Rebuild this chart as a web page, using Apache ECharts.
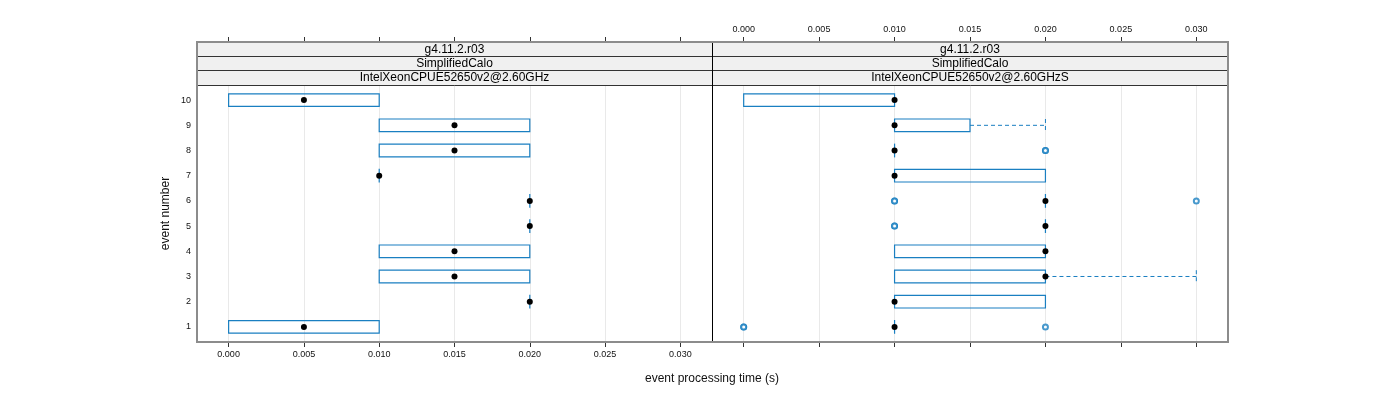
<!DOCTYPE html>
<html>
<head>
<meta charset="utf-8">
<script src="https://cdn.jsdelivr.net/npm/echarts@6/dist/echarts.min.js"></script>
<style>html,body{margin:0;padding:0;background:#fff}#c{width:1400px;height:400px}</style>
</head>
<body>
<div id="c"></div>
<script>
// ---- data ----
const events = [1, 2, 3, 4, 5, 6, 7, 8, 9, 10];
const xTicks = [0.000, 0.005, 0.010, 0.015, 0.020, 0.025, 0.030];
const stripVersion = 'g4.11.2.r03';
const stripTest = 'SimplifiedCalo';
const panelNames = ['IntelXeonCPUE52650v2@2.60GHz', 'IntelXeonCPUE52650v2@2.60GHzS'];

// left panel: IntelXeonCPUE52650v2@2.60GHz
const leftLow  = [0.000, 0.020, 0.010, 0.010, 0.020, 0.020, 0.010, 0.010, 0.010, 0.000];
const leftQ1   = [0.000, 0.020, 0.010, 0.010, 0.020, 0.020, 0.010, 0.010, 0.010, 0.000];
const leftMed  = [0.005, 0.020, 0.015, 0.015, 0.020, 0.020, 0.010, 0.015, 0.015, 0.005];
const leftQ3   = [0.010, 0.020, 0.020, 0.020, 0.020, 0.020, 0.010, 0.020, 0.020, 0.010];
const leftHigh = [0.010, 0.020, 0.020, 0.020, 0.020, 0.020, 0.010, 0.020, 0.020, 0.010];
const leftOutliers = [[], [], [], [], [], [], [], [], [], []];

// right panel: IntelXeonCPUE52650v2@2.60GHzS
const rightLow  = [0.010, 0.010, 0.010, 0.010, 0.020, 0.020, 0.010, 0.010, 0.010, 0.000];
const rightQ1   = [0.010, 0.010, 0.010, 0.010, 0.020, 0.020, 0.010, 0.010, 0.010, 0.000];
const rightMed  = [0.010, 0.010, 0.020, 0.020, 0.020, 0.020, 0.010, 0.010, 0.010, 0.010];
const rightQ3   = [0.010, 0.020, 0.020, 0.020, 0.020, 0.020, 0.020, 0.010, 0.015, 0.010];
const rightHigh = [0.010, 0.020, 0.030, 0.020, 0.020, 0.020, 0.020, 0.010, 0.020, 0.010];
const rightOutliers = [[0.000, 0.000, 0.020], [], [], [], [0.010, 0.010], [0.010, 0.010, 0.030], [], [0.020, 0.020], [], []];

// ---- build ----
const BLUE = '#1a7fc1';
const FONT = 'Liberation Sans, Arial, sans-serif';

function boxData(low, q1, med, q3, high) {
  return events.map((e, i) => [low[i], q1[i], med[i], q3[i], high[i], e]);
}
function medData(med) { return events.map((e, i) => [med[i], e]); }
function outData(outs) {
  const r = [];
  outs.forEach((arr, i) => arr.forEach(v => r.push([v, events[i]])));
  return r;
}

function renderBox(params, api) {
  const y = api.value(5);
  const low = api.value(0), q1 = api.value(1), q3 = api.value(3), high = api.value(4);
  const half = api.size([0, 0.25])[1];
  const pq1 = api.coord([q1, y]);
  const pq3 = api.coord([q3, y]);
  const pl = api.coord([low, y]);
  const ph = api.coord([high, y]);
  const children = [];
  const dash = [4, 3];
  children.push({
    type: 'rect',
    shape: { x: pq1[0], y: pq1[1] - half, width: Math.max(pq3[0] - pq1[0], 0.01), height: half * 2 },
    style: { fill: 'none', stroke: BLUE, lineWidth: 1.2 }
  });
  if (high > q3) {
    children.push({ type: 'line', shape: { x1: pq3[0], y1: pq3[1], x2: ph[0], y2: ph[1] },
      style: { stroke: BLUE, lineWidth: 1, lineDash: dash } });
    children.push({ type: 'line', shape: { x1: ph[0], y1: ph[1] - half, x2: ph[0], y2: ph[1] + half },
      style: { stroke: BLUE, lineWidth: 1, lineDash: dash } });
  }
  if (low < q1) {
    children.push({ type: 'line', shape: { x1: pq1[0], y1: pq1[1], x2: pl[0], y2: pl[1] },
      style: { stroke: BLUE, lineWidth: 1, lineDash: dash } });
    children.push({ type: 'line', shape: { x1: pl[0], y1: pl[1] - half, x2: pl[0], y2: pl[1] + half },
      style: { stroke: BLUE, lineWidth: 1, lineDash: dash } });
  }
  return { type: 'group', children };
}

const XMIN = -0.0021, XMAX = 0.0321;
function xAxisDef(gridIndex, position, showLabels, showSplit, offset) {
  return {
    type: 'value', gridIndex, position, offset: offset || 0,
    min: XMIN, max: XMAX,
    axisLine: { show: false },
    axisTick: { show: true, length: 5, customValues: xTicks, lineStyle: { color: '#333', width: 1 } },
    axisLabel: { show: showLabels, customValues: xTicks, margin: 8, fontSize: 9, color: '#111', fontFamily: FONT,
      formatter: v => v.toFixed(3) },
    splitLine: { show: showSplit, lineStyle: { color: '#e9e9e9', width: 1 } }
  };
}
function yAxisDef(gridIndex, showLabels) {
  return {
    type: 'value', gridIndex, min: 0.4, max: 10.6,
    axisLine: { show: false }, axisTick: { show: false },
    axisLabel: { show: showLabels, customValues: events, margin: 6, fontSize: 9, color: '#111', fontFamily: FONT },
    splitLine: { show: false },
    name: showLabels ? 'event number' : '', nameLocation: 'middle', nameGap: 25,
    nameTextStyle: { fontSize: 12, color: '#111', fontFamily: FONT }
  };
}

const PL = 197, PM = 712, PR = 1228, PT = 85, PB = 342, ST = 42;
const stripRows = [[42, 56, stripVersion], [56, 70, stripTest], [70, 85, null]];
const graphics = [];
[[PL, PM, panelNames[0]], [PM, PR, panelNames[1]]].forEach(([x0, x1, nm]) => {
  stripRows.forEach(([y0, y1, txt]) => {
    graphics.push({ type: 'rect', shape: { x: x0, y: y0, width: x1 - x0, height: y1 - y0 },
      style: { fill: '#f0f0f0', stroke: null }, silent: true, z: 1 });
    graphics.push({ type: 'text', x: (x0 + x1) / 2, y: (y0 + y1) / 2 + 0.5,
      style: { text: txt || nm, fontSize: 12, fill: '#000', fontFamily: FONT, align: 'center', verticalAlign: 'middle' }, z: 3 });
  });
});
[56, 70, 85].forEach(y => graphics.push({ type: 'line', shape: { x1: PL, y1: y + 0.5, x2: PR, y2: y + 0.5 },
  style: { stroke: '#333', lineWidth: 1 }, z: 4 }));
graphics.push({ type: 'line', shape: { x1: PM + 0.5, y1: ST, x2: PM + 0.5, y2: PB }, style: { stroke: '#000', lineWidth: 1 }, z: 5 });
graphics.push({ type: 'rect', shape: { x: PL, y: ST, width: PR - PL, height: PB - ST },
  style: { fill: 'none', stroke: '#8c8c8c', lineWidth: 2 }, z: 6 });
graphics.push({ type: 'text', x: 712, y: 379,
  style: { text: 'event processing time (s)', fontSize: 12, fill: '#111', fontFamily: FONT, align: 'center', verticalAlign: 'middle' } });

const option = {
  animation: false,
  backgroundColor: '#fff',
  grid: [
    { left: PL, top: PT, width: PM - PL, height: PB - PT },
    { left: PM, top: PT, width: PR - PM, height: PB - PT }
  ],
  xAxis: [
    xAxisDef(0, 'bottom', true, true, 0),
    xAxisDef(0, 'top', false, false, 43),
    xAxisDef(1, 'bottom', false, true, 0),
    xAxisDef(1, 'top', true, false, 43)
  ],
  yAxis: [yAxisDef(0, true), yAxisDef(1, false)],
  graphic: graphics,
  series: [
    { type: 'custom', xAxisIndex: 0, yAxisIndex: 0, renderItem: renderBox,
      data: boxData(leftLow, leftQ1, leftMed, leftQ3, leftHigh), encode: { x: [0, 1, 2, 3, 4], y: 5 }, z: 2, silent: true },
    { type: 'scatter', xAxisIndex: 0, yAxisIndex: 0, data: outData(leftOutliers), symbol: 'emptyCircle', symbolSize: 5,
      itemStyle: { color: BLUE, borderColor: BLUE, borderWidth: 1 }, z: 3, silent: true },
    { type: 'scatter', xAxisIndex: 0, yAxisIndex: 0, data: medData(leftMed), symbol: 'circle', symbolSize: 6,
      itemStyle: { color: '#000', opacity: 1 }, z: 4, silent: true },
    { type: 'custom', xAxisIndex: 2, yAxisIndex: 1, renderItem: renderBox,
      data: boxData(rightLow, rightQ1, rightMed, rightQ3, rightHigh), encode: { x: [0, 1, 2, 3, 4], y: 5 }, z: 2, silent: true },
    { type: 'scatter', xAxisIndex: 2, yAxisIndex: 1, data: outData(rightOutliers), symbol: 'emptyCircle', symbolSize: 5,
      itemStyle: { color: BLUE, borderColor: BLUE, borderWidth: 1 }, z: 3, silent: true },
    { type: 'scatter', xAxisIndex: 2, yAxisIndex: 1, data: medData(rightMed), symbol: 'circle', symbolSize: 6,
      itemStyle: { color: '#000', opacity: 1 }, z: 4, silent: true }
  ]
};
const chart = echarts.init(document.getElementById('c'), null, { renderer: 'canvas' });
chart.setOption(option);
</script>
</body>
</html>
